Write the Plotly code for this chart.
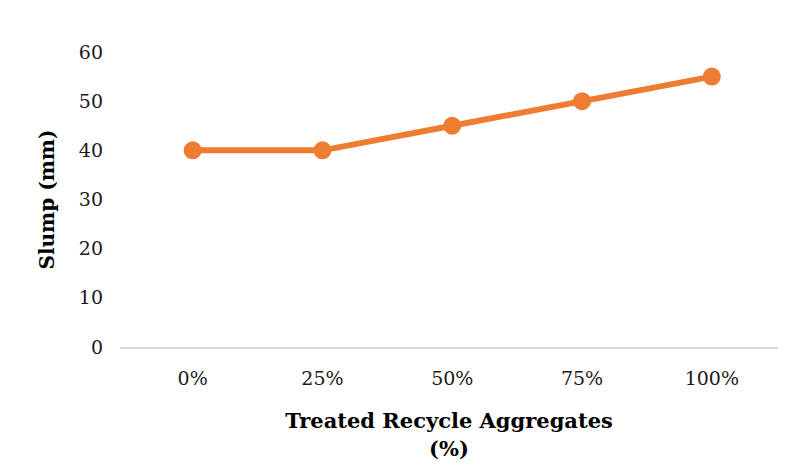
import plotly.graph_objects as go

categories = ["0%", "25%", "50%", "75%", "100%"]
slump = [40, 40, 45, 50, 55]
y_ticks = [0, 10, 20, 30, 40, 50, 60]

fig = go.Figure()
fig.add_trace(go.Scatter(
    x=categories, y=slump, mode="lines+markers",
    line=dict(color="#ED7D31", width=6),
    marker=dict(color="#ED7D31", size=18),
    showlegend=False,
))

# page body has an 8px margin, so offsets are compensated
fig.update_layout(
    width=811, height=473,
    margin=dict(l=112, r=41, t=44, b=134),
    plot_bgcolor="white", paper_bgcolor="white",
    font=dict(family="DejaVu Serif", color="#1a1a1a", size=19),
)
fig.update_xaxes(
    type="category", range=[-0.56, 4.51],
    showline=True, linecolor="#D9D9D9", linewidth=2,
    showgrid=False, ticks="", ticklabelstandoff=13,
    title=dict(text="<b>Treated Recycle Aggregates<br>(%)</b>",
               font=dict(family="DejaVu Serif", size=21, color="#000000"), standoff=26),
)
fig.update_yaxes(
    range=[0, 60], tickvals=y_ticks, showgrid=False, zeroline=False,
    showline=False, ticks="", ticklabelstandoff=16,
    title=dict(text="<b>Slump (mm)</b>",
               font=dict(family="DejaVu Serif", size=20, color="#000000"), standoff=18),
)
fig.write_html("out.html")
